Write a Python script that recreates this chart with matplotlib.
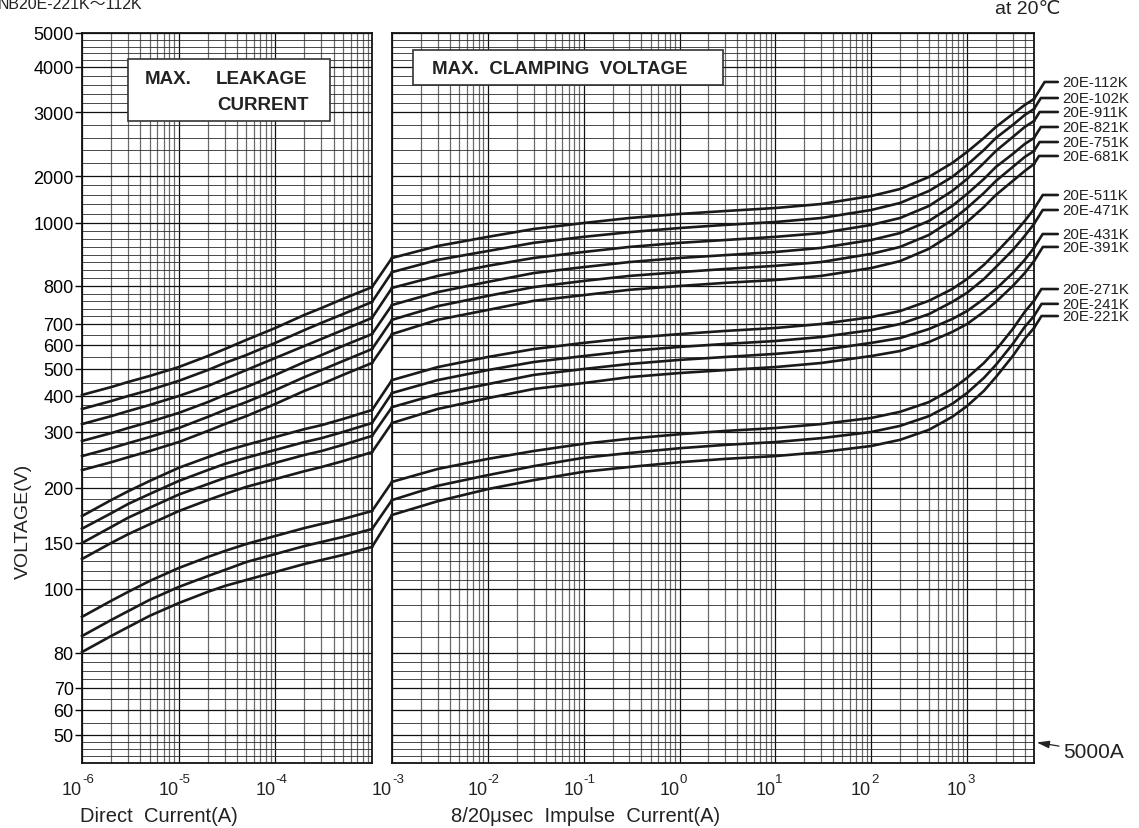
import matplotlib
matplotlib.use("Agg")
import matplotlib.pyplot as plt
import matplotlib.transforms as mtransforms
import numpy as np
from matplotlib.patches import ConnectionPatch, Rectangle
from matplotlib.ticker import FixedLocator, NullFormatter

plt.rcParams["font.family"] = ["Liberation Sans", "DejaVu Sans", "Noto Sans CJK JP"]

# ---- values ----
models = ["20E-112K", "20E-102K", "20E-911K", "20E-821K", "20E-751K", "20E-681K",
          "20E-511K", "20E-471K", "20E-431K", "20E-391K",
          "20E-271K", "20E-241K", "20E-221K"]

# max. leakage current side (DC)
dc_current = [1e-6, 2e-6, 3e-6, 5e-6, 1e-5, 2e-5, 3e-5, 5e-5, 1e-4, 2e-4, 3e-4, 5e-4, 1e-3]
leak_voltage = [
    [404, 433, 452, 474, 508, 554, 583, 624, 681, 724, 742, 766, 797],
    [364, 386, 400, 422, 456, 496, 525, 558, 610, 671, 703, 726, 758],
    [322, 344, 358, 375, 400, 437, 463, 496, 546, 596, 629, 671, 716],
    [284, 298, 311, 328, 353, 383, 404, 433, 478, 529, 558, 596, 652],
    [257, 271, 280, 291, 311, 342, 361, 383, 422, 470, 496, 533, 583],
    [232, 246, 255, 266, 282, 303, 322, 344, 378, 419, 444, 478, 525],
    [174.5, 189, 197, 212.5, 236, 255, 266, 277, 291, 308, 319, 336, 361],
    [163, 177, 185.5, 194.5, 212.5, 232, 243, 254, 268, 282, 289, 300, 325],
    [150, 164.5, 173, 182, 194, 207, 218, 230, 245, 259, 266, 277, 293],
    [132.6, 150, 158, 167, 179, 189, 194.5, 202, 216, 230, 237.5, 248, 264],
    [91.3, 96.3, 99.1, 108.7, 122.8, 134.8, 141.3, 148.9, 156.4, 163.6, 167.3, 171.8, 179.1],
    [85.3, 90.3, 93.1, 96.6, 102.2, 114.1, 120.7, 129.3, 138.0, 146.7, 150.9, 155.5, 162.7],
    [80.3, 85.3, 88.1, 91.6, 95.6, 99.1, 103.3, 109.8, 118.5, 127.2, 131.5, 137.0, 145.7],
]

# max. clamping voltage side (8/20us impulse)
impulse_current = [1e-3, 3e-3, 1e-2, 3e-2, 0.1, 0.3, 1, 3, 10, 30, 100, 200, 400, 700,
                   1000, 1500, 2000, 3000, 4000, 5000]
clamp_voltage = [
    [889, 927, 956, 981, 1000, 1106, 1192, 1255, 1319, 1404, 1574, 1723, 1979, 2203, 2375, 2594, 2766, 2969, 3156, 3289],
    [844, 883, 911, 937, 956, 971, 984, 994, 1021, 1106, 1277, 1426, 1681, 1979, 2172, 2406, 2594, 2797, 2953, 3067],
    [795, 832, 864, 889, 908, 924, 937, 946, 956, 968, 994, 1106, 1362, 1681, 1936, 2203, 2391, 2609, 2766, 2859],
    [750, 784, 813, 841, 860, 876, 889, 898, 908, 921, 946, 968, 1043, 1362, 1617, 1936, 2141, 2344, 2500, 2594],
    [711, 747, 774, 797, 816, 832, 844, 854, 864, 876, 902, 924, 962, 1064, 1319, 1638, 1894, 2141, 2297, 2391],
    [652, 711, 737, 761, 776, 790, 800, 810, 819, 832, 857, 879, 918, 965, 1021, 1340, 1596, 1894, 2078, 2188],
    [459, 508, 550, 583, 610, 633, 652, 667, 681, 700, 718, 734, 761, 792, 822, 867, 905, 962, 1043, 1298],
    [411, 459, 496, 529, 554, 575, 592, 605, 619, 638, 671, 700, 726, 758, 782, 822, 860, 914, 959, 997],
    [369, 407, 444, 478, 500, 521, 538, 550, 563, 579, 610, 633, 676, 713, 734, 766, 792, 841, 883, 921],
    [325, 364, 394, 426, 448, 470, 485, 496, 508, 525, 554, 575, 614, 662, 700, 732, 758, 800, 841, 879],
    [211, 234, 252, 266, 279, 288, 296, 303, 311, 322, 339, 356, 383, 426, 467, 525, 579, 676, 732, 761],
    [189, 204, 223, 239, 254, 262.5, 271, 277, 282, 289, 300, 317, 344, 378, 411, 467, 517, 605, 686, 721],
    [175.5, 188, 199, 214, 229, 237.5, 246, 252, 257, 264, 275, 286, 306, 342, 372, 419, 470, 554, 629, 681],
]

# where each model name sits on the voltage axis
label_volts = [3667, 3311, 3000, 2766, 2531, 2313, 1596, 1277, 965, 924, 792, 753, 721]

# the voltage axis of the sheet is hand drawn: labelled lines at these heights
axis_volts = [40, 50, 60, 70, 80, 100, 150, 200, 300, 400, 500, 600, 700, 800,
              1000, 2000, 3000, 4000, 5000]
axis_height = [0, 28, 53, 75, 110, 174, 220, 275, 331, 367, 394, 418, 439, 477,
               540, 587, 651, 696, 730]
volt_ticks = axis_volts[1:]
volt_minor = [42.5, 45, 47.5, 55, 65, 72.5, 75, 77.5, 85, 90, 95, 110, 120, 130, 140,
              160, 170, 180, 190, 220, 240, 260, 280, 325, 350, 375, 450, 550, 650,
              720, 740, 760, 780, 825, 850, 875, 900, 925, 950, 975, 1200, 1400, 1600,
              1800, 2200, 2400, 2600, 2800, 3200, 3400, 3600, 3800, 4200, 4400, 4600, 4800]

dc_decades = [1e-6, 1e-5, 1e-4]
imp_decades = [1e-3, 1e-2, 1e-1, 1, 10, 100, 1000]

LINE = "#1a1a1a"
TEXT = "#222222"


def volt_fwd(v):
    return np.interp(v, axis_volts, axis_height)


def volt_inv(h):
    return np.interp(h, axis_height, axis_volts)


def minor_decades(lo, hi):
    out = []
    for e in range(int(np.floor(np.log10(lo))), int(np.ceil(np.log10(hi))) + 1):
        for m in range(2, 10):
            v = m * 10.0 ** e
            if lo < v < hi:
                out.append(v)
    return out


def setup_axis(ax, xlim, majors):
    ax.set_xscale("log")
    ax.set_yscale("function", functions=(volt_fwd, volt_inv))
    ax.set_xlim(*xlim)
    ax.set_ylim(40, 5000)
    ax.xaxis.set_major_locator(FixedLocator(majors))
    ax.xaxis.set_minor_locator(FixedLocator(minor_decades(*xlim)))
    ax.xaxis.set_major_formatter(NullFormatter())
    ax.xaxis.set_minor_formatter(NullFormatter())
    ax.yaxis.set_major_locator(FixedLocator(volt_ticks))
    ax.yaxis.set_minor_locator(FixedLocator(volt_minor))
    ax.yaxis.set_minor_formatter(NullFormatter())
    ax.tick_params(axis="x", which="both", length=0)
    ax.tick_params(axis="y", which="minor", length=0)
    ax.grid(which="major", color="#111111", lw=0.9)
    ax.grid(which="minor", axis="x", color="#6a6a6a", lw=0.9)
    ax.grid(which="minor", axis="y", color="#2a2a2a", lw=0.6)
    for s in ax.spines.values():
        s.set_linewidth(1.3)
        s.set_color("#111111")


W, H = 1139.0, 829.0
fig = plt.figure(figsize=(W / 100, H / 100), dpi=100)
ax_dc = fig.add_axes([82 / W, 1 - 764 / H, 290 / W, 730 / H])
ax_imp = fig.add_axes([392 / W, 1 - 764 / H, 642 / W, 730 / H])

setup_axis(ax_dc, (1e-6, 1e-3), dc_decades)
setup_axis(ax_imp, (1e-3, 5000), imp_decades)

ax_dc.yaxis.set_major_formatter(plt.FuncFormatter(lambda v, _: f"{v:.0f}"))
ax_dc.tick_params(axis="y", which="major", length=5, width=1.0, pad=1, labelsize=13)
ax_imp.yaxis.set_major_formatter(NullFormatter())
ax_imp.tick_params(axis="y", which="major", length=0)

lbl_trans = mtransforms.blended_transform_factory(ax_imp.transAxes, ax_imp.transData)

# curves + the short jumps between the two panels
for i, name in enumerate(models):
    ax_dc.plot(dc_current, leak_voltage[i], color=LINE, lw=1.9, zorder=4, clip_on=False,
               solid_joinstyle="round")
    ax_imp.plot(impulse_current, clamp_voltage[i], color=LINE, lw=1.9, zorder=4, clip_on=False,
                solid_joinstyle="round")
    con = ConnectionPatch(xyA=(dc_current[-1], leak_voltage[i][-1]), coordsA="data", axesA=ax_dc,
                          xyB=(impulse_current[0], clamp_voltage[i][0]), coordsB="data", axesB=ax_imp,
                          color=LINE, lw=1.9)
    fig.add_artist(con)

    ax_imp.annotate(name, xy=(impulse_current[-1], clamp_voltage[i][-1]), xycoords="data",
                    xytext=(1.0436, label_volts[i]), textcoords=lbl_trans,
                    ha="left", va="center", fontsize=10.8, color=TEXT,
                    arrowprops=dict(arrowstyle="-", lw=1.9, color=LINE, shrinkA=1, shrinkB=0,
                                    connectionstyle="angle,angleA=0,angleB=58,rad=0"))

# 5000A marker
ax_imp.annotate("5000A", xy=(5000, 47.5), xycoords="data", xytext=(21, -7),
                textcoords="offset points", ha="left", va="center", fontsize=15, color=TEXT,
                arrowprops=dict(arrowstyle="-|>,head_length=0.5,head_width=0.15", lw=0.9,
                                color=TEXT, shrinkA=1, shrinkB=2))

# boxed captions
ax_dc.add_patch(Rectangle((0.1586, 0.879), 0.6966, 0.085, transform=ax_dc.transAxes,
                          facecolor="white", edgecolor="#333333", lw=1.2, zorder=3))
bold = dict(fontsize=13.5, fontweight="bold", color=TEXT, va="center", zorder=5)
ax_dc.text(0.217, 0.937, "MAX.", transform=ax_dc.transAxes, ha="left", **bold)
ax_dc.text(0.462, 0.937, "LEAKAGE", transform=ax_dc.transAxes, ha="left", **bold)
ax_dc.text(0.466, 0.9027, "CURRENT", transform=ax_dc.transAxes, ha="left", **bold)

ax_imp.add_patch(Rectangle((0.0327, 0.9284), 0.4829, 0.0479, transform=ax_imp.transAxes,
                           facecolor="white", edgecolor="#333333", lw=1.2, zorder=3))
ax_imp.text(0.0623, 0.952, "MAX.  CLAMPING  VOLTAGE", transform=ax_imp.transAxes,
            ha="left", **bold)

# decade labels: "10" ends at the gridline, exponent just right of it
for ax, decades in ((ax_dc, dc_decades), (ax_imp, imp_decades)):
    tr = mtransforms.blended_transform_factory(ax.transData, fig.transFigure)
    for d in decades:
        e = int(round(np.log10(d)))
        ax.text(d, 1 - 795 / H, "10", transform=tr, ha="right", va="baseline",
                fontsize=13, color=TEXT, clip_on=False)
        ax.text(d, 1 - 783 / H, f"{e}", transform=tr, ha="left", va="baseline",
                fontsize=9.5, color=TEXT, clip_on=False)

fig.text(80 / W, 1 - 822 / H, "Direct  Current(A)", ha="left", va="baseline",
         fontsize=14.5, color=TEXT)
fig.text(586 / W, 1 - 822 / H, "8/20\u03bcsec  Impulse  Current(A)", ha="center", va="baseline",
         fontsize=14.5, color=TEXT)
fig.text(23 / W, 1 - 521 / H, "VOLTAGE(V)", rotation=90, ha="center", va="center",
         fontsize=14, color=TEXT)
fig.text(-2 / W, 1 - 9 / H, "NB20E-221K\u301c112K", ha="left", va="baseline",
         fontsize=11.5, color=TEXT)
fig.text(1060 / W, 1 - 14 / H, "at 20\u2103", ha="right", va="baseline",
         fontsize=14, color=TEXT)

fig.savefig("out.png", dpi=100, facecolor="white")
